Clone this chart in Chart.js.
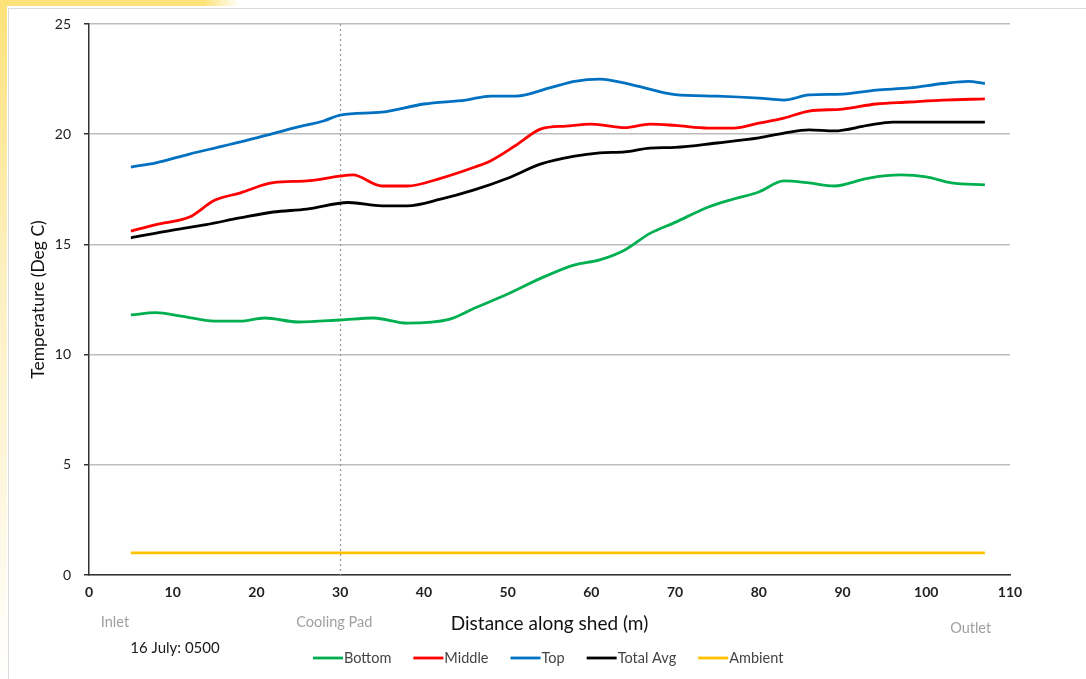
<!DOCTYPE html>
<html>
<head>
<meta charset="utf-8">
<script src="https://cdn.jsdelivr.net/npm/chart.js@4.4.1/dist/chart.umd.min.js"></script>
<style>
  html, body { margin: 0; padding: 0; background: #fff; }
  #wrap { position: relative; width: 1086px; height: 679px; overflow: hidden; background: #fff; }
  #glow-top { position: absolute; left: 0; top: 0; width: 240px; height: 6px;
    background: linear-gradient(to right, #fde27a 0%, #fde27a 85%, rgba(253,226,122,0) 100%); }
  #glow-left { position: absolute; left: 0; top: 0; width: 7px; height: 679px;
    background: linear-gradient(to bottom, #fde27a 0%, #fdf0c0 40%, #fef6dc 70%, #ffffff 100%); }
  #frame { position: absolute; left: 8px; top: 8px; width: 1090px; height: 690px; border: 1px solid #dcdcdc; background: #fff; }
  canvas { position: absolute; left: 0; top: 0; }
</style>
</head>
<body>
<div id="wrap">
  <div id="glow-top"></div>
  <div id="glow-left"></div>
  <div id="frame"></div>
  <canvas id="chart" width="1086" height="679"></canvas>
</div>
<script>
// --- Data ---
const bottomX = [5, 8, 11, 15, 18, 21, 25, 30, 34, 38, 43, 46, 50, 54, 58, 61, 64, 67, 70, 74, 77, 80, 83, 86, 89, 93, 97, 100, 103, 107];
const bottomY = [11.8, 11.9, 11.75, 11.52, 11.52, 11.66, 11.48, 11.57, 11.66, 11.43, 11.6, 12.1, 12.75, 13.47, 14.07, 14.3, 14.75, 15.5, 16.0, 16.7, 17.06, 17.38, 17.88, 17.79, 17.65, 18.0, 18.15, 18.06, 17.79, 17.7];

const middleX = [5, 8, 12, 15, 18, 22, 26, 30, 31.5, 35, 38, 42, 46, 48, 51, 54, 57, 60, 64, 67, 70, 74, 77, 80, 83, 86, 90, 94, 98, 102, 107];
const middleY = [15.6, 15.9, 16.24, 17.0, 17.33, 17.8, 17.88, 18.1, 18.15, 17.65, 17.65, 18.0, 18.5, 18.8, 19.5, 20.24, 20.37, 20.46, 20.3, 20.46, 20.4, 20.28, 20.28, 20.5, 20.73, 21.05, 21.14, 21.37, 21.46, 21.55, 21.6];

const topX = [5, 8, 12, 16, 20, 25, 28, 30, 35, 40, 45, 48, 51, 55, 58, 61, 65, 70, 75, 80, 83, 86, 90, 94, 98, 102, 105, 107];
const topY = [18.51, 18.7, 19.1, 19.46, 19.83, 20.33, 20.6, 20.87, 21.0, 21.37, 21.55, 21.73, 21.73, 22.1, 22.4, 22.5, 22.23, 21.8, 21.73, 21.64, 21.55, 21.78, 21.82, 22.0, 22.1, 22.3, 22.4, 22.3];

const avgX = [5, 10, 14, 18, 22, 26, 31, 35, 38, 42, 46, 50, 54, 58, 61, 64, 67, 70, 75, 80, 83, 86, 89, 93, 96, 100, 107];
const avgY = [15.3, 15.65, 15.9, 16.2, 16.47, 16.6, 16.9, 16.75, 16.75, 17.05, 17.47, 18.0, 18.65, 19.0, 19.15, 19.2, 19.37, 19.4, 19.6, 19.83, 20.05, 20.2, 20.15, 20.4, 20.55, 20.55, 20.55];

const ambientX = [5, 107];
const ambientY = [1, 1];

const seriesNames = ['Bottom', 'Middle', 'Top', 'Total Avg', 'Ambient'];
const seriesColors = ['#00b050', '#ff0000', '#0070c0', '#000000', '#ffc000'];
const yTicks = [0, 5, 10, 15, 20, 25];
const xTicks = [0, 10, 20, 30, 40, 50, 60, 70, 80, 90, 100, 110];
const coolingPadAt = 30;
const sideNotes = [
    { text: 'Inlet', at: 3.1 },
    { text: 'Cooling Pad', at: 29.3 },
    { text: 'Outlet', at: 105.3, dy: 6 }
];
const dateNote = '16 July: 0500';

const FONT = 'Lato, "Open Sans", sans-serif';

const toPoints = (xs, ys) => xs.map((x, i) => ({ x, y: ys[i] }));
const pointSets = [
    toPoints(bottomX, bottomY),
    toPoints(middleX, middleY),
    toPoints(topX, topY),
    toPoints(avgX, avgY),
    toPoints(ambientX, ambientY)
];

// --- Extras: dotted cooling pad line, notes, legend ---
const extrasPlugin = {
    id: 'extras',
    beforeDatasetsDraw(chart) {
        const { ctx, chartArea, scales } = chart;
        const px = Math.round(scales.x.getPixelForValue(coolingPadAt)) + 0.5;
        ctx.save();
        ctx.strokeStyle = '#9a9a9a';
        ctx.lineWidth = 1.3;
        ctx.setLineDash([2, 3]);
        ctx.beginPath();
        ctx.moveTo(px, chartArea.top);
        ctx.lineTo(px, chartArea.bottom);
        ctx.stroke();
        ctx.restore();
    },
    afterDraw(chart) {
        const { ctx, scales } = chart;
        ctx.save();
        ctx.textBaseline = 'middle';
        ctx.textAlign = 'center';
        ctx.font = '14.5px ' + FONT;
        ctx.fillStyle = '#a0a0a0';
        sideNotes.forEach(n => {
            ctx.fillText(n.text, scales.x.getPixelForValue(n.at), 622 + (n.dy || 0));
        });
        ctx.font = '15px ' + FONT;
        ctx.fillStyle = '#1a1a1a';
        ctx.fillText(dateNote, 175, 648);

        // legend
        ctx.font = '14.5px ' + FONT;
        ctx.textAlign = 'left';
        let x = 313;
        const y = 658;
        seriesNames.forEach((name, i) => {
            ctx.strokeStyle = seriesColors[i];
            ctx.lineWidth = 2.8;
            ctx.beginPath();
            ctx.moveTo(x, y);
            ctx.lineTo(x + 30, y);
            ctx.stroke();
            ctx.fillStyle = '#444';
            ctx.fillText(name, x + 31, y);
            x += 31 + ctx.measureText(name).width + 22;
        });
        ctx.restore();
    }
};

new Chart(document.getElementById('chart'), {
    type: 'line',
    data: {
        datasets: seriesNames.map((name, i) => ({
            label: name,
            data: pointSets[i],
            borderColor: seriesColors[i],
            backgroundColor: seriesColors[i],
            borderWidth: 2.8,
            pointRadius: 0,
            tension: 0.4,
            cubicInterpolationMode: 'monotone',
            fill: false
        }))
    },
    options: {
        responsive: false,
        animation: false,
        layout: { padding: { left: 26, right: 76, top: 24, bottom: 44 } },
        plugins: { legend: { display: false }, tooltip: { enabled: false } },
        scales: {
            x: {
                type: 'linear',
                min: 0,
                max: 110,
                afterBuildTicks: s => { s.ticks = xTicks.map(v => ({ value: v })); },
                afterFit: s => { s.height = 60; },
                grid: { display: false, drawOnChartArea: false, drawTicks: true, tickLength: 5, tickColor: '#333' },
                border: { color: '#333', width: 1.5 },
                ticks: { color: '#222', font: { family: FONT, size: 14, weight: 'bold' }, padding: 4, maxRotation: 0 },
                title: { display: true, text: 'Distance along shed (m)', color: '#111', font: { family: FONT, size: 19 }, padding: { top: 2, bottom: 0 } }
            },
            y: {
                min: 0,
                max: 25,
                afterBuildTicks: s => { s.ticks = yTicks.map(v => ({ value: v })); },
                afterFit: s => { s.width = 63; },
                grid: { color: '#bdbdbd', lineWidth: 1.5, tickLength: 5, tickColor: '#333', drawTicks: true },
                border: { color: '#333', width: 1.5 },
                ticks: { color: '#222', font: { family: FONT, size: 14 }, padding: 13 },
                title: { display: true, text: 'Temperature (Deg C)', color: '#111', font: { family: FONT, size: 17.5 }, padding: 2 }
            }
        }
    },
    plugins: [extrasPlugin]
});
</script>
</body>
</html>
